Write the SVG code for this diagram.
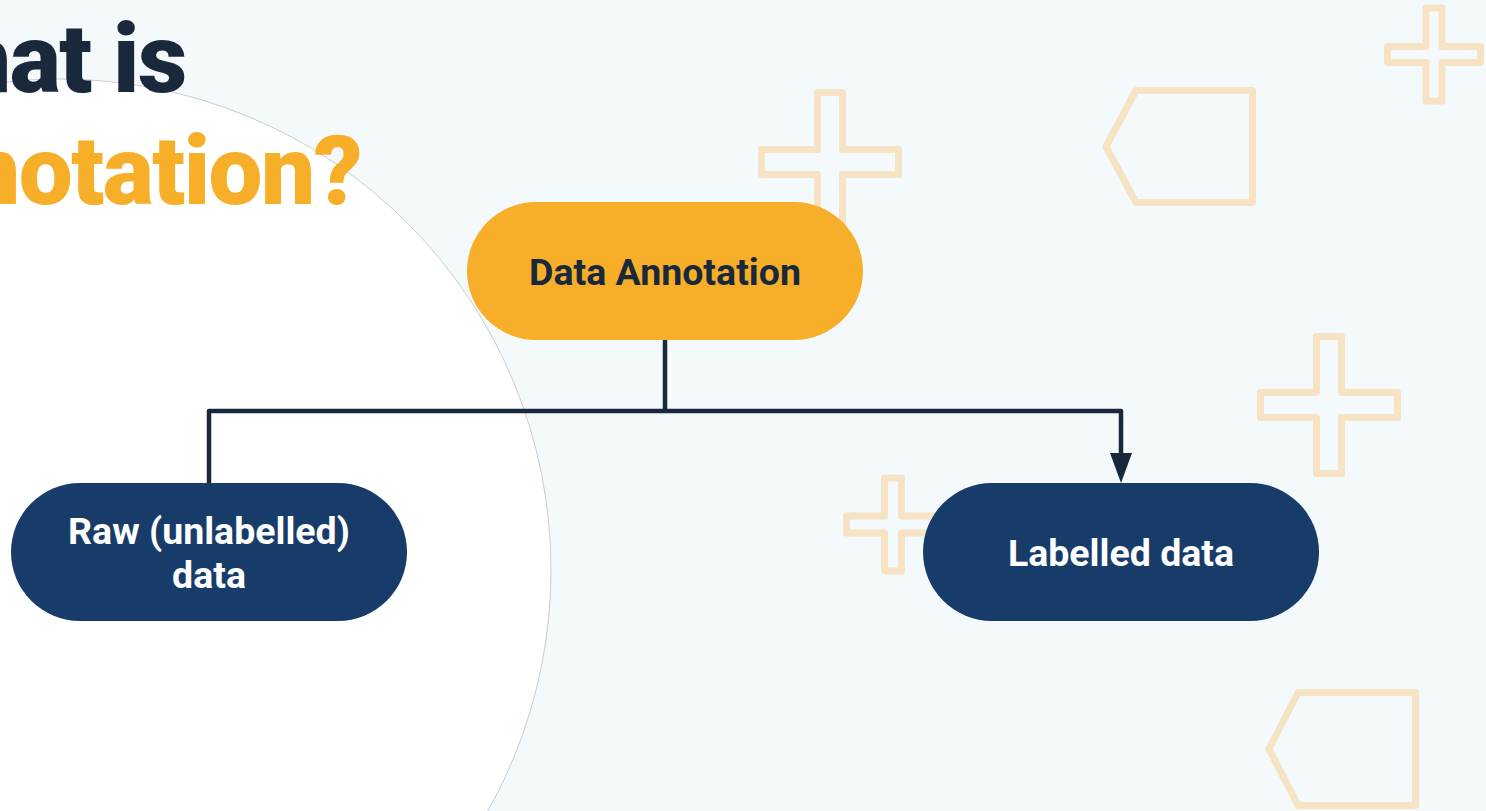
<svg xmlns="http://www.w3.org/2000/svg" width="1486" height="811" viewBox="0 0 1486 811">
<defs>
<style>
.deco{fill:none;stroke:#f6e3c4;stroke-width:7;stroke-linejoin:round;stroke-linecap:round}
.title{font-family:Roboto,"Liberation Sans",sans-serif;font-weight:900;font-size:96px;letter-spacing:-1.5px}
.lbl{font-family:Roboto,"Liberation Sans",sans-serif;font-weight:700;font-size:37.5px;text-anchor:middle}
.conn{fill:none;stroke:#1a283b;stroke-width:4.5;stroke-linejoin:round}
</style>
</defs>
<rect width="1486" height="811" fill="#f4f9fc"/>
<g id="decorations">
<path class="deco" d="M817.5,92.5 h25 v57 h56 v25 h-56 v57 h-25 v-57 h-56 v-25 h56 z"/>
<path class="deco" d="M1426,8 h16 v38.5 h38.5 v16 h-38.5 v38.5 h-16 v-38.5 h-38.5 v-16 h38.5 z"/>
<path class="deco" d="M1316.5,336.5 h25 v56 h56 v25 h-56 v56 h-25 v-56 h-56 v-25 h56 z"/>
<path class="deco" d="M884.5,478 h17 v38 h38 v17 h-38 v38 h-17 v-38 h-38 v-17 h38 z"/>
<path class="deco" d="M1136,90.5 H1252.5 V202.5 H1136 L1106,146.5 Z"/>
<path class="deco" d="M1298,692.5 H1415.5 V805.5 H1298 L1269,749 Z"/>
</g>
<circle cx="60" cy="570" r="491" fill="#ffffff" stroke="#c9ccd0" stroke-width="1"/>
<g id="title">
<text class="title" x="-43" y="92" fill="#1a283b">hat is</text>
<text class="title" x="-34" y="204" fill="#f7ae29">notation?</text>
</g>
<g id="connectors">
<path class="conn" d="M665,340 V411"/>
<path class="conn" d="M209,483 V411 H1121 V453"/>
<path d="M1110,453 L1132,453 L1121,483 Z" fill="#1a283b"/>
</g>
<g id="node-data-annotation">
<rect x="467" y="202" width="396" height="138" rx="69" fill="#f7ae29"/>
<text class="lbl" x="665" y="285" fill="#1a283b">Data Annotation</text>
</g>
<g id="node-raw">
<rect x="11" y="483" width="396" height="138" rx="69" fill="#183c69"/>
<text class="lbl" x="209" y="544" fill="#ffffff">Raw (unlabelled)</text>
<text class="lbl" x="209" y="588" fill="#ffffff">data</text>
</g>
<g id="node-labelled">
<rect x="923" y="483" width="396" height="138" rx="69" fill="#183c69"/>
<text class="lbl" x="1121" y="566" fill="#ffffff">Labelled data</text>
</g>
</svg>
